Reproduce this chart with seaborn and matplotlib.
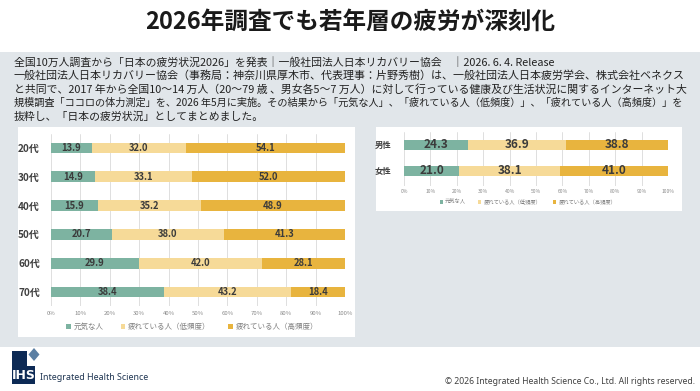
import matplotlib
matplotlib.use("Agg")
import matplotlib.pyplot as plt
from matplotlib.patches import Rectangle, Patch, Polygon
import numpy as np
import pandas as pd
import seaborn as sns

# ---------------- data ----------------
age_groups = ["20代", "30代", "40代", "50代", "60代", "70代"]
age_genki = [13.9, 14.9, 15.9, 20.7, 29.9, 38.4]
age_low = [32.0, 33.1, 35.2, 38.0, 42.0, 43.2]
age_high = [54.1, 52.0, 48.9, 41.3, 28.1, 18.4]

sex_groups = ["男性", "女性"]
sex_genki = [24.3, 21.0]
sex_low = [36.9, 38.1]
sex_high = [38.8, 41.0]

series_names = ["元気な人", "疲れている人（低頻度）", "疲れている人（高頻度）"]
xtick_values = [0, 10, 20, 30, 40, 50, 60, 70, 80, 90, 100]
xtick_labels = [f"{v}%" for v in xtick_values]

colors = ["#7db3a1", "#f6da98", "#e8b43e"]

title_text = "2026年調査でも若年層の疲労が深刻化"
body_lines = [
    "全国10万人調査から「日本の疲労状況2026」を発表｜一般社団法人日本リカバリー協会　｜2026. 6. 4. Release",
    "一般社団法人日本リカバリー協会（事務局：神奈川県厚木市、代表理事：片野秀樹）は、一般社団法人日本疲労学会、株式会社ベネクス",
    "と共同で、2017 年から全国10～14 万人（20～79 歳 、男女各5～7 万人）に対して行っている健康及び生活状況に関するインターネット大",
    "規模調査「ココロの体力測定」を、2026 年5月に実施。その結果から「元気な人」、「疲れている人（低頻度）」、「疲れている人（高頻度）」を",
    "抜粋し、「日本の疲労状況」としてまとめました。",
]
body_widths = [None, 674, 674, 674, None]
copyright_text = "© 2026 Integrated Health Science Co., Ltd. All rights reserved."
company_text = "Integrated Health Science"

# ---------------- setup ----------------
sns.set_theme(style="white")
plt.rcParams["font.family"] = ["Noto Sans CJK JP", "DejaVu Sans"]

W, H = 700, 391
fig = plt.figure(figsize=(W / 100, H / 100), dpi=100)
fig.patch.set_facecolor("white")


def fx(x):
    return x / W


def fy(y):
    return 1 - y / H


def rect_px(x0, y0, x1, y1, color, z):
    r = Rectangle((fx(x0), fy(y1)), (x1 - x0) / W, (y1 - y0) / H,
                  transform=fig.transFigure, facecolor=color, edgecolor="none", zorder=z)
    fig.patches.append(r)


# background panels
rect_px(0, 52, 700, 347, "#e1e6ea", -10)
rect_px(18, 127, 355, 337, "white", -5)
rect_px(376, 127, 682, 211, "white", -5)

# title
fig.text(0.5, fy(22), title_text, ha="center", va="center", fontsize=17,
         fontweight="bold", color="#1a1a1a")

# body text, justified lines fitted to their width in the reference
fig.canvas.draw()
renderer = fig.canvas.get_renderer()
for i, (line, wpx) in enumerate(zip(body_lines, body_widths)):
    t = fig.text(fx(14), fy(62 + i * 13.7), line, ha="left", va="center",
                 fontsize=7.8, color="#222222")
    if wpx is not None:
        w = t.get_window_extent(renderer).width
        t.set_fontsize(min(8.6, 7.8 * wpx / w))


def stacked(ax, groups, genki, low, high, bar_h, lab_fs, ytick_fs, xtick_fs, ypad):
    df = pd.DataFrame({"group": groups, "genki": genki, "low": low, "high": high})
    df["c1"] = df["genki"]
    df["c2"] = df["genki"] + df["low"]
    df["c3"] = df["genki"] + df["low"] + df["high"]
    for col, c in zip(["c3", "c2", "c1"], colors[::-1]):
        sns.barplot(data=df, x=col, y="group", orient="h", color=c,
                    width=bar_h, ax=ax, saturation=1, edgecolor="none", zorder=3)
    for i, row in df.iterrows():
        starts = [0, row["c1"], row["c2"]]
        vals = [row["genki"], row["low"], row["high"]]
        for s, v in zip(starts, vals):
            ax.text(s + v / 2, i, f"{v:.1f}", ha="center", va="center",
                    fontsize=lab_fs, fontweight="bold", color="#3b3b3b", zorder=5)
    ax.set_xlim(0, 100)
    ax.set_xticks(xtick_values)
    ax.set_xticklabels(xtick_labels, fontsize=xtick_fs, color="#8a8a8a")
    ax.set_xlabel("")
    ax.set_ylabel("")
    ax.tick_params(axis="y", labelsize=ytick_fs, labelcolor="#404040", length=0, pad=ypad)
    ax.tick_params(axis="x", length=0, pad=3)
    for lab in ax.get_yticklabels():
        lab.set_fontweight("bold")
    ax.grid(axis="x", color="#d9d9d9", linewidth=0.6, zorder=0)
    ax.grid(axis="y", visible=False)
    for sp in ax.spines.values():
        sp.set_visible(False)
    ax.set_facecolor("none")


# left chart (age)
axL = fig.add_axes([fx(51), fy(306.4), 294 / W, 172.8 / H])
stacked(axL, age_groups, age_genki, age_low, age_high, 0.38, 6.8, 7.2, 4.3, 8)
axL.set_ylim(5.5, -0.5)
handles = [Patch(facecolor=c, edgecolor="none") for c in colors]
fig.legend(handles, series_names, loc="center", bbox_to_anchor=(fx(192), fy(327)),
           ncol=3, frameon=False, fontsize=5.4, labelcolor="#7f7f7f",
           handlelength=0.6, handleheight=0.6, handletextpad=0.4, columnspacing=2.3)

# right chart (sex)
axR = fig.add_axes([fx(404), fy(186), 264 / W, 54 / H])
stacked(axR, sex_groups, sex_genki, sex_low, sex_high, 0.38, 8.5, 6.0, 3.6, 9)
axR.set_ylim(1.58, -0.5)
axR.tick_params(axis="x", pad=2)
fig.legend(handles, series_names, loc="center", bbox_to_anchor=(fx(528), fy(202)),
           ncol=3, frameon=False, fontsize=3.8, labelcolor="#7f7f7f",
           handlelength=0.6, handleheight=0.6, handletextpad=0.4, columnspacing=2.3)

# footer logo
rect_px(12, 351, 27, 367, "#0d2a55", 5)
rect_px(12, 366, 35, 384, "#0d2a55", 5)
fig.text(fx(23.5), fy(375.5), "IHS", ha="center", va="center", fontsize=9,
         fontweight="bold", color="white", zorder=6, family=["DejaVu Sans"])
dia = Polygon([(fx(34), fy(348)), (fx(39.5), fy(354.5)), (fx(34), fy(361)), (fx(28.5), fy(354.5))],
              closed=True, transform=fig.transFigure, facecolor="#5b7fa3",
              edgecolor="none", zorder=6)
fig.patches.append(dia)
fig.text(fx(40), fy(377), company_text, ha="left", va="center", fontsize=6.4,
         color="#1f3552", family=["Noto Sans", "DejaVu Sans"])
fig.text(fx(695), fy(381), copyright_text, ha="right", va="center", fontsize=6.2,
         color="#404040", family=["Noto Sans", "DejaVu Sans"])

fig.savefig("out.png", dpi=100)
